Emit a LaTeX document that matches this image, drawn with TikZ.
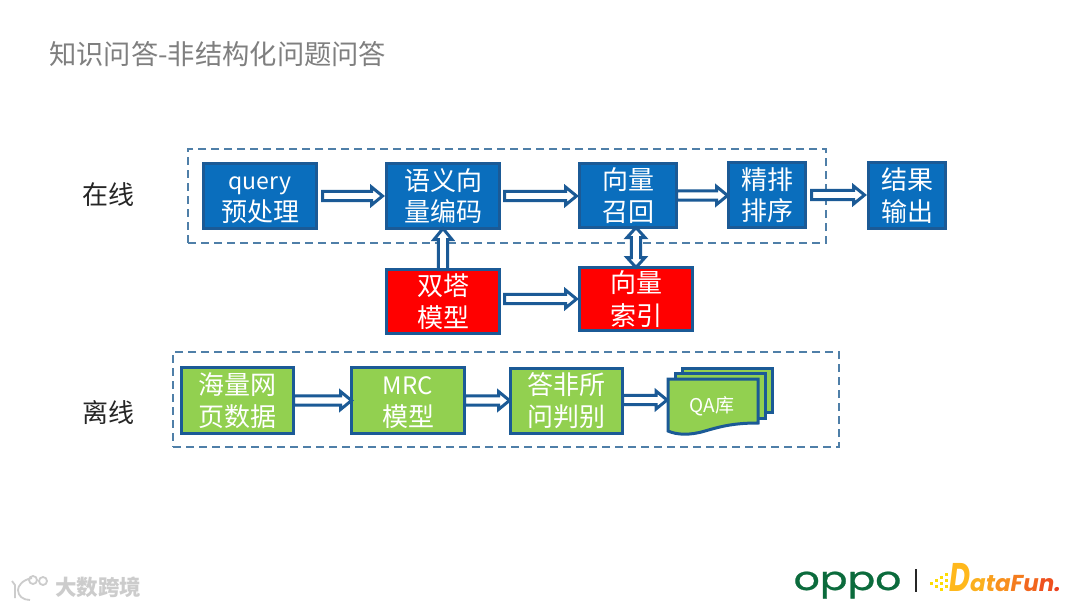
\documentclass[tikz,border=0pt]{standalone}
\usepackage{fontspec}
\usetikzlibrary{calc}
\setmainfont{Noto Sans CJK SC}
\newfontfamily\popfont{Poppins}
\newfontfamily\oppofont[FakeBold=0.7]{Poppins}
\definecolor{bluefill}{HTML}{0A6EBD}
\definecolor{edgeblue}{HTML}{1B5A96}
\definecolor{leafgreen}{HTML}{92D050}
\definecolor{dashblue}{HTML}{4F7FA8}
\definecolor{titlegray}{HTML}{7F7F7F}
\definecolor{darktext}{HTML}{262626}
\definecolor{oppogreen}{HTML}{0B6B3C}
\tikzset{
  box/.style={draw=edgeblue,line width=3pt,inner sep=0pt,outer sep=0pt,text=white,align=center,
     font=\fontsize{26}{31.5}\selectfont},
  bluebox/.style={box,fill=bluefill},
  redbox/.style={box,fill=red},
  greenbox/.style={box,fill=leafgreen,font=\fontsize{26}{32}\selectfont},
  dashbox/.style={draw=dashblue,line width=2pt,dash pattern=on 8pt off 5pt,inner sep=0pt},
  fat/.style={draw=edgeblue,fill=white,line width=3pt,line join=miter},
  pagestack/.style={draw=edgeblue,fill=leafgreen,line width=3pt},
  sidelabel/.style={text=darktext,font=\fontsize{26}{31}\selectfont,inner sep=0pt},
  wm/.style={draw=black!20,line width=1.8pt,fill=none}
}
\newcommand{\fatarrow}[2]{%
  \coordinate (S) at #1; \coordinate (E) at #2;
  \coordinate (H) at ($(E)!11pt!(S)$);
  \draw[fat] ($(S)!4.6pt!90:(E)$) -- ($(H)!4.6pt!90:(E)$) -- ($(H)!9pt!90:(E)$) -- (E)
     -- ($(H)!9pt!-90:(E)$) -- ($(H)!4.6pt!-90:(E)$) -- ($(S)!4.6pt!-90:(E)$) -- cycle;
}
\newcommand{\fatboth}[2]{%
  \coordinate (S) at #1; \coordinate (E) at #2;
  \coordinate (H) at ($(E)!10pt!(S)$); \coordinate (G) at ($(S)!10pt!(E)$);
  \draw[fat] (S) -- ($(G)!9pt!90:(E)$) -- ($(G)!4.6pt!90:(E)$) -- ($(H)!4.6pt!90:(E)$) -- ($(H)!9pt!90:(E)$) -- (E)
     -- ($(H)!9pt!-90:(E)$) -- ($(H)!4.6pt!-90:(E)$) -- ($(G)!4.6pt!-90:(E)$) -- ($(G)!9pt!-90:(E)$) -- cycle;
}
\begin{document}
\begin{tikzpicture}[x=1pt,y=-1pt]
\useasboundingbox (0,0) rectangle (1080,608);
\fill[white] (0,0) rectangle (1080,608);

\node[anchor=west,inner sep=0pt,text=titlegray,font=\fontsize{27.3}{32}\selectfont] (title) at (49,54) {知识问答-非结构化问题问答};

% dashed frames
\node[dashbox,minimum width=638pt,minimum height=94pt] (online) at (507,196) {};
\node[dashbox,minimum width=666pt,minimum height=95pt] (offline) at (506,399.5) {};

\node[sidelabel] (lon) at (108,195) {在线};
\node[sidelabel] (loff) at (108,413) {离线};

% online row
\node[bluebox,minimum width=113pt,minimum height=65pt] (query) at (260,196) {\vphantom{语}\fontsize{23}{31.5}\selectfont query\\\fontsize{26}{31.5}\selectfont 预处理};
\node[bluebox,minimum width=113pt,minimum height=65pt] (encode) at (443,196) {语义向\\量编码};
\node[bluebox,minimum width=97pt,minimum height=64pt] (recall) at (628,195.5) {向量\\召回};
\node[bluebox,minimum width=77pt,minimum height=65pt] (rank) at (767,195) {精排\\排序};
\node[bluebox,minimum width=77pt,minimum height=66pt] (result) at (907,195.5) {结果\\输出};

% red row
\node[redbox,minimum width=113pt,minimum height=64pt] (tower) at (443,301.5) {双塔\\模型};
\node[redbox,minimum width=113pt,minimum height=63pt,font=\fontsize{26}{33}\selectfont] (index) at (636,299) {向量\\索引};

% offline row
\node[greenbox,minimum width=112pt,minimum height=66pt] (web) at (237.5,400.5) {海量网\\页数据};
\node[greenbox,minimum width=113pt,minimum height=66pt] (mrc) at (408,400.5) {\vphantom{语}\fontsize{24}{32}\selectfont MRC\\\fontsize{26}{32}\selectfont 模型};
\node[greenbox,minimum width=112pt,minimum height=65pt] (judge) at (566.5,401) {答非所\\问判别};

% QA document stack
\draw[pagestack] (682,368) -- (772,368) -- (772,412.5) -- (682,412.5) -- cycle;
\draw[pagestack] (675,373.5) -- (765,373.5) -- (765,418) -- (675,418) -- cycle;
\draw[pagestack] (668,379) -- (758,379) -- (758,423)
   .. controls (735,423) and (722,426) .. (705,431)
   .. controls (690,435.5) and (677,435) .. (668,431) -- cycle;
\node[inner sep=0pt,text=white,font=\fontsize{19}{22}\selectfont] (qa) at (712,406) {QA库};
\coordinate (docin) at (667,400);

% arrows (each drawn level between the anchors it joins)
\fatarrow{([xshift=6pt]query.east)}{([xshift=-4pt]encode.west)}
\fatarrow{([xshift=5pt]encode.east)}{([xshift=-3pt]encode.east -| recall.west)}
\fatarrow{(recall.east)}{([xshift=-1pt]recall.east -| rank.west)}
\fatarrow{([xshift=6pt]rank.east)}{([xshift=-4pt]rank.east -| result.west)}
\fatarrow{(tower.north)}{(encode.south)}
\fatarrow{([xshift=5pt]tower.east |- index.west)}{([xshift=-3pt]index.west)}
\fatboth{(index.north)}{(index.north |- recall.south)}
\fatarrow{(web.east)}{(mrc.west)}
\fatarrow{(mrc.east)}{([xshift=-1pt]mrc.east -| judge.west)}
\fatarrow{(judge.east |- docin)}{(docin)}

% watermark
\draw[wm] (12,581) -- (15,585) -- (15,598);
\draw[wm] (32,578) .. controls (22,580) and (18,586) .. (18,590) .. controls (18,596) and (23,600) .. (30,600);
\draw[wm] (33,580) circle (4pt);
\draw[wm] (43,581) circle (4pt);
\node[inner sep=0pt,text=black!20,font=\fontsize{21.5}{24}\bfseries\selectfont] (wmtext) at (98,587.5) {大数跨境};

% logos
\node[inner sep=0pt,anchor=base,text=oppogreen,font=\oppofont\fontsize{33}{36}\selectfont] (oppo) at (847.5,590) {\scalebox{1.24}[1]{oppo}};
\draw[darktext,line width=1.3pt] (916,569) -- (916,592);
\foreach \dx/\dy in {0/6,0/12,5/3,5/9,5/15,10/0,10/6,10/12,-5/9}
  \fill[yellow!80!orange] (935+\dx,573+\dy) rectangle ++(3.4,3.4);
\node[inner sep=0pt,anchor=base west,font=\popfont\bfseries\itshape\fontsize{23}{30}\selectfont] (datafun) at (949,591)
  {\textcolor[HTML]{FFB81C}{\fontsize{40}{40}\selectfont\scalebox{0.72}[1]{D}}\textcolor[HTML]{FBB01E}{a}\textcolor[HTML]{F9A01E}{t}\textcolor[HTML]{F8901E}{a}\textcolor[HTML]{F47C1E}{F}\textcolor[HTML]{F2661E}{u}\textcolor[HTML]{EE501E}{n}\textcolor[HTML]{EA401E}{.}};
\end{tikzpicture}
\end{document}
